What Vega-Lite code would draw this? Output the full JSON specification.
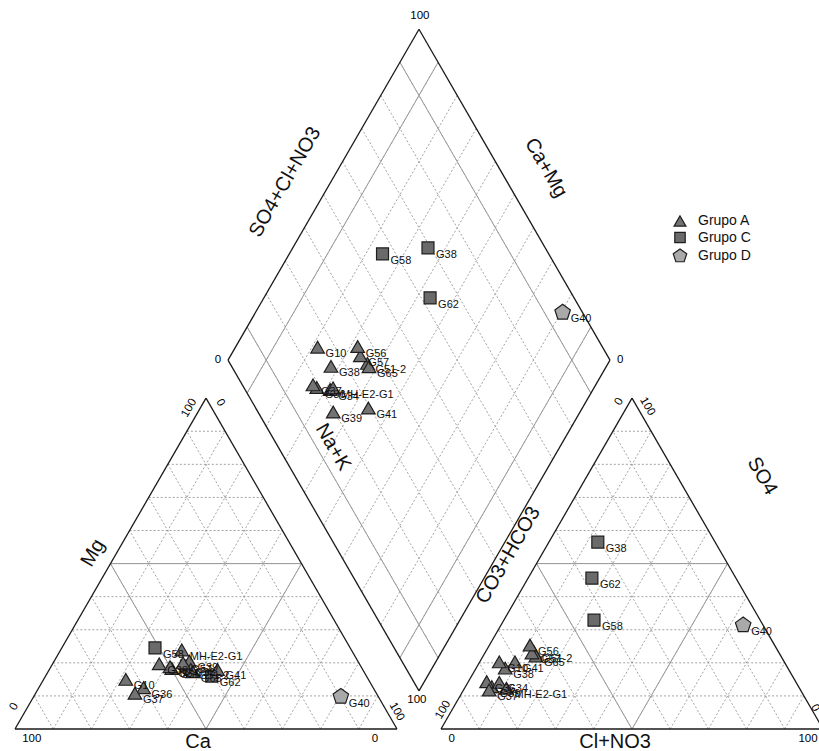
{
  "$schema": "https://vega.github.io/schema/vega-lite/v6.json",
  "width": 819,
  "height": 751,
  "autosize": {"type": "none"},
  "padding": 0,
  "background": "white",
  "config": {"view": {"stroke": null}, "font": "Liberation Sans"},
  "datasets": {
    "lines": [
      {"panel": "cat", "fam": "h", "kind": "grid", "v": [10, 20, 30, 40, 50, 60, 70, 80, 90]},
      {"panel": "cat", "fam": "p", "kind": "grid", "v": [10, 20, 30, 40, 50, 60, 70, 80, 90]},
      {"panel": "cat", "fam": "q", "kind": "grid", "v": [10, 20, 30, 40, 50, 60, 70, 80, 90]},
      {"panel": "an", "fam": "h", "kind": "grid", "v": [10, 20, 30, 40, 50, 60, 70, 80, 90]},
      {"panel": "an", "fam": "p", "kind": "grid", "v": [10, 20, 30, 40, 50, 60, 70, 80, 90]},
      {"panel": "an", "fam": "q", "kind": "grid", "v": [10, 20, 30, 40, 50, 60, 70, 80, 90]},
      {"panel": "dia", "fam": "u", "kind": "grid", "v": [10, 20, 30, 40, 50, 60, 70, 80, 90]},
      {"panel": "dia", "fam": "w", "kind": "grid", "v": [10, 20, 30, 40, 50, 60, 70, 80, 90]},
      {"panel": "cat", "fam": "h", "kind": "class", "v": [50]},
      {"panel": "cat", "fam": "p", "kind": "class", "v": [50]},
      {"panel": "cat", "fam": "q", "kind": "class", "v": [50]},
      {"panel": "an", "fam": "h", "kind": "class", "v": [50]},
      {"panel": "an", "fam": "p", "kind": "class", "v": [50]},
      {"panel": "an", "fam": "q", "kind": "class", "v": [50]},
      {"panel": "dia", "fam": "u", "kind": "class", "v": [10, 90]},
      {"panel": "dia", "fam": "w", "kind": "class", "v": [10, 90]},
      {"panel": "cat", "fam": "h", "kind": "frame", "v": [0]},
      {"panel": "cat", "fam": "p", "kind": "frame", "v": [0]},
      {"panel": "cat", "fam": "q", "kind": "frame", "v": [0]},
      {"panel": "an", "fam": "h", "kind": "frame", "v": [0]},
      {"panel": "an", "fam": "p", "kind": "frame", "v": [0]},
      {"panel": "an", "fam": "q", "kind": "frame", "v": [0]},
      {"panel": "dia", "fam": "u", "kind": "frame", "v": [0, 100]},
      {"panel": "dia", "fam": "w", "kind": "frame", "v": [0, 100]}
    ],
    "samples": [
      {"id": "G58", "grupo": "Grupo C", "Ca": 51.1, "Mg": 24.5, "NaK": 24.4, "HCO3": 43.5, "SO4": 32.9, "Cl": 23.6},
      {"id": "G38", "grupo": "Grupo C", "Ca": 45.6, "Mg": 19.0, "NaK": 35.4, "HCO3": 30.7, "SO4": 56.5, "Cl": 12.8},
      {"id": "G62", "grupo": "Grupo C", "Ca": 40.5, "Mg": 16.0, "NaK": 43.5, "HCO3": 37.7, "SO4": 45.6, "Cl": 16.7},
      {"id": "G40", "grupo": "Grupo D", "Ca": 9.8, "Mg": 9.8, "NaK": 80.4, "HCO3": 5.2, "SO4": 31.4, "Cl": 63.4},
      {"id": "G41", "grupo": "Grupo A", "Ca": 38.0, "Mg": 18.0, "NaK": 44.0, "HCO3": 70.5, "SO4": 20.3, "Cl": 9.2},
      {"id": "G39", "grupo": "Grupo A", "Ca": 44.1, "Mg": 20.5, "NaK": 35.4, "HCO3": 80.3, "SO4": 12.8, "Cl": 6.9},
      {"id": "G51-2", "grupo": "Grupo A", "Ca": 45.0, "Mg": 18.0, "NaK": 37.0, "HCO3": 64.0, "SO4": 23.4, "Cl": 12.6},
      {"id": "G65", "grupo": "Grupo A", "Ca": 44.8, "Mg": 17.3, "NaK": 37.9, "HCO3": 64.1, "SO4": 22.1, "Cl": 13.8},
      {"id": "G57", "grupo": "Grupo A", "Ca": 46.0, "Mg": 20.0, "NaK": 34.0, "HCO3": 64.7, "SO4": 23.0, "Cl": 12.3},
      {"id": "G56", "grupo": "Grupo A", "Ca": 49.8, "Mg": 18.3, "NaK": 31.9, "HCO3": 64.0, "SO4": 25.4, "Cl": 10.6},
      {"id": "G34", "grupo": "Grupo A", "Ca": 50.0, "Mg": 18.8, "NaK": 31.2, "HCO3": 77.7, "SO4": 14.1, "Cl": 8.2},
      {"id": "MH-E2-G1", "grupo": "Grupo A", "Ca": 44.4, "Mg": 23.9, "NaK": 31.7, "HCO3": 76.7, "SO4": 12.3, "Cl": 11.0},
      {"id": "G38", "grupo": "Grupo A", "Ca": 52.4, "Mg": 19.7, "NaK": 27.9, "HCO3": 74.0, "SO4": 18.4, "Cl": 7.6},
      {"id": "G36", "grupo": "Grupo A", "Ca": 60.1, "Mg": 12.5, "NaK": 27.4, "HCO3": 80.9, "SO4": 14.3, "Cl": 4.8},
      {"id": "G37", "grupo": "Grupo A", "Ca": 63.2, "Mg": 10.8, "NaK": 26.0, "HCO3": 81.5, "SO4": 11.8, "Cl": 6.7},
      {"id": "G10", "grupo": "Grupo A", "Ca": 63.5, "Mg": 15.0, "NaK": 21.5, "HCO3": 74.6, "SO4": 20.3, "Cl": 5.1}
    ],
    "titles": [
      {"t": "Ca", "x": 47.9, "y": -3.4, "dir": "flat"},
      {"t": "Cl+NO3", "x": 157.1, "y": -3.4, "dir": "flat"},
      {"t": "Mg", "x": 20.4, "y": 46.1, "dir": "up"},
      {"t": "Na+K", "x": 83.3, "y": 73.8, "dir": "down"},
      {"t": "CO3+HCO3", "x": 129.1, "y": 45.5, "dir": "up"},
      {"t": "SO4", "x": 195.6, "y": 66.2, "dir": "down"},
      {"t": "SO4+Cl+NO3", "x": 70.7, "y": 143.2, "dir": "up"},
      {"t": "Ca+Mg", "x": 139.0, "y": 146.9, "dir": "down"}
    ],
    "ticks": [
      {"t": "100", "x": 106.0, "y": 186.7, "dir": "flat"},
      {"t": "0", "x": 53.1, "y": 96.6, "dir": "flat"},
      {"t": "0", "x": 158.4, "y": 96.6, "dir": "flat"},
      {"t": "100", "x": 105.2, "y": 7.6, "dir": "flat"},
      {"t": "100", "x": 4.4, "y": -2.5, "dir": "flat"},
      {"t": "0", "x": 94.2, "y": -2.6, "dir": "flat"},
      {"t": "0", "x": -0.2, "y": 5.8, "dir": "up"},
      {"t": "100", "x": 45.6, "y": 84.0, "dir": "up"},
      {"t": "0", "x": 53.7, "y": 85.4, "dir": "down"},
      {"t": "100", "x": 99.9, "y": 4.5, "dir": "down"},
      {"t": "0", "x": 114.3, "y": -2.6, "dir": "flat"},
      {"t": "100", "x": 207.6, "y": -2.6, "dir": "flat"},
      {"t": "100", "x": 112.1, "y": 5.0, "dir": "up"},
      {"t": "0", "x": 158.2, "y": 85.7, "dir": "up"},
      {"t": "100", "x": 165.5, "y": 84.4, "dir": "down"},
      {"t": "0", "x": 209.4, "y": 5.5, "dir": "down"}
    ]
  },
  "layer": [
    {
      "data": {"name": "lines"},
      "transform": [
        {"flatten": ["v"]},
        {"calculate": "datum.panel == 'an' ? 111.52 : 0", "as": "ox"},
        {"calculate": "datum.panel == 'dia' ? (datum.fam == 'u' ? 105.76 - 0.5 * datum.v : 105.76 + 0.5 * datum.v) : datum.ox + (datum.fam == 'h' ? 0.5 * datum.v : (datum.fam == 'p' ? datum.v : 100 - datum.v))", "as": "x1"},
        {"calculate": "datum.panel == 'dia' ? 9.976 + 0.8660254 * datum.v : (datum.fam == 'h' ? 0.8660254 * datum.v : 0)", "as": "y1"},
        {"calculate": "datum.panel == 'dia' ? datum.x1 + (datum.fam == 'u' ? 50 : -50) : datum.ox + (datum.fam == 'h' ? 100 - 0.5 * datum.v : (datum.fam == 'p' ? 50 + 0.5 * datum.v : 50 - 0.5 * datum.v))", "as": "x2"},
        {"calculate": "datum.panel == 'dia' ? datum.y1 + 86.60254 : (datum.fam == 'h' ? 0.8660254 * datum.v : 0.8660254 * (100 - datum.v))", "as": "y2"}
      ],
      "layer": [
        {
          "transform": [{"filter": "datum.kind == 'grid'"}],
          "mark": {"type": "rule", "stroke": "#8c8c8c", "strokeWidth": 0.8, "strokeDash": [2, 2]},
          "encoding": {
            "x": {"field": "x1", "type": "quantitative", "scale": {"domain": [-3.9267, 210.4712], "nice": false, "zero": false}, "axis": null},
            "y": {"field": "y1", "type": "quantitative", "scale": {"domain": [-5.7592, 190.8377], "nice": false, "zero": false}, "axis": null},
            "x2": {"field": "x2"},
            "y2": {"field": "y2"}
          }
        },
        {
          "transform": [{"filter": "datum.kind == 'class'"}],
          "mark": {"type": "rule", "stroke": "#9a9a9a", "strokeWidth": 1},
          "encoding": {
            "x": {"field": "x1", "type": "quantitative", "scale": {"domain": [-3.9267, 210.4712], "nice": false, "zero": false}, "axis": null},
            "y": {"field": "y1", "type": "quantitative", "scale": {"domain": [-5.7592, 190.8377], "nice": false, "zero": false}, "axis": null},
            "x2": {"field": "x2"},
            "y2": {"field": "y2"}
          }
        },
        {
          "transform": [{"filter": "datum.kind == 'frame'"}],
          "mark": {"type": "rule", "stroke": "#1a1a1a", "strokeWidth": 1.3},
          "encoding": {
            "x": {"field": "x1", "type": "quantitative", "scale": {"domain": [-3.9267, 210.4712], "nice": false, "zero": false}, "axis": null},
            "y": {"field": "y1", "type": "quantitative", "scale": {"domain": [-5.7592, 190.8377], "nice": false, "zero": false}, "axis": null},
            "x2": {"field": "x2"},
            "y2": {"field": "y2"}
          }
        }
      ]
    },
    {
      "data": {"name": "titles"},
      "layer": [
        {
          "transform": [{"filter": "datum.dir == 'flat'"}],
          "mark": {"type": "text", "fontSize": 20, "font": "Liberation Sans", "align": "center", "baseline": "middle", "color": "#111", "angle": 0},
          "encoding": {
            "x": {"field": "x", "type": "quantitative", "scale": {"domain": [-3.9267, 210.4712], "nice": false, "zero": false}, "axis": null},
            "y": {"field": "y", "type": "quantitative", "scale": {"domain": [-5.7592, 190.8377], "nice": false, "zero": false}, "axis": null},
            "text": {"field": "t"}
          }
        },
        {
          "transform": [{"filter": "datum.dir == 'up'"}],
          "mark": {"type": "text", "fontSize": 20, "font": "Liberation Sans", "align": "center", "baseline": "middle", "color": "#111", "angle": 300},
          "encoding": {
            "x": {"field": "x", "type": "quantitative", "scale": {"domain": [-3.9267, 210.4712], "nice": false, "zero": false}, "axis": null},
            "y": {"field": "y", "type": "quantitative", "scale": {"domain": [-5.7592, 190.8377], "nice": false, "zero": false}, "axis": null},
            "text": {"field": "t"}
          }
        },
        {
          "transform": [{"filter": "datum.dir == 'down'"}],
          "mark": {"type": "text", "fontSize": 20, "font": "Liberation Sans", "align": "center", "baseline": "middle", "color": "#111", "angle": 60},
          "encoding": {
            "x": {"field": "x", "type": "quantitative", "scale": {"domain": [-3.9267, 210.4712], "nice": false, "zero": false}, "axis": null},
            "y": {"field": "y", "type": "quantitative", "scale": {"domain": [-5.7592, 190.8377], "nice": false, "zero": false}, "axis": null},
            "text": {"field": "t"}
          }
        }
      ]
    },
    {
      "data": {"name": "ticks"},
      "layer": [
        {
          "transform": [{"filter": "datum.dir == 'flat'"}],
          "mark": {"type": "text", "fontSize": 11.5, "font": "Liberation Sans", "align": "center", "baseline": "middle", "color": "#000", "angle": 0},
          "encoding": {
            "x": {"field": "x", "type": "quantitative", "scale": {"domain": [-3.9267, 210.4712], "nice": false, "zero": false}, "axis": null},
            "y": {"field": "y", "type": "quantitative", "scale": {"domain": [-5.7592, 190.8377], "nice": false, "zero": false}, "axis": null},
            "text": {"field": "t"}
          }
        },
        {
          "transform": [{"filter": "datum.dir == 'up'"}],
          "mark": {"type": "text", "fontSize": 11.5, "font": "Liberation Sans", "align": "center", "baseline": "middle", "color": "#000", "angle": 300},
          "encoding": {
            "x": {"field": "x", "type": "quantitative", "scale": {"domain": [-3.9267, 210.4712], "nice": false, "zero": false}, "axis": null},
            "y": {"field": "y", "type": "quantitative", "scale": {"domain": [-5.7592, 190.8377], "nice": false, "zero": false}, "axis": null},
            "text": {"field": "t"}
          }
        },
        {
          "transform": [{"filter": "datum.dir == 'down'"}],
          "mark": {"type": "text", "fontSize": 11.5, "font": "Liberation Sans", "align": "center", "baseline": "middle", "color": "#000", "angle": 60},
          "encoding": {
            "x": {"field": "x", "type": "quantitative", "scale": {"domain": [-3.9267, 210.4712], "nice": false, "zero": false}, "axis": null},
            "y": {"field": "y", "type": "quantitative", "scale": {"domain": [-5.7592, 190.8377], "nice": false, "zero": false}, "axis": null},
            "text": {"field": "t"}
          }
        }
      ]
    },
    {
      "data": {"name": "samples"},
      "transform": [
        {"calculate": "datum.NaK + 0.5 * datum.Mg", "as": "cx"},
        {"calculate": "0.8660254 * datum.Mg", "as": "cy"}
      ],
      "layer": [
        {
          "mark": {"type": "point", "filled": true, "size": 185, "stroke": "#1e1e1e", "strokeWidth": 1.2, "opacity": 1},
          "encoding": {
            "x": {"field": "cx", "type": "quantitative", "scale": {"domain": [-3.9267, 210.4712], "nice": false, "zero": false}, "axis": null},
            "y": {"field": "cy", "type": "quantitative", "scale": {"domain": [-5.7592, 190.8377], "nice": false, "zero": false}, "axis": null},
            "shape": {"field": "grupo", "type": "nominal", "scale": {"domain": ["Grupo A", "Grupo C", "Grupo D"], "range": ["triangle-up", "M-0.88,-0.88L0.88,-0.88L0.88,0.88L-0.88,0.88Z", "M0,-1.2L1.14,-0.37L0.7,0.97L-0.7,0.97L-1.14,-0.37Z"]},
              "legend": {"title": null, "orient": "none", "legendX": 673, "legendY": 214, "labelFontSize": 14, "labelFont": "Liberation Sans", "labelColor": "#111", "symbolSize": 140, "symbolStrokeColor": "#1e1e1e", "symbolStrokeWidth": 1.2, "symbolOpacity": 1, "labelOffset": 11, "rowPadding": 0.5, "padding": 0}},
            "color": {"field": "grupo", "type": "nominal", "scale": {"domain": ["Grupo A", "Grupo C", "Grupo D"], "range": ["#737373", "#6a6a6a", "#a9a9a9"]},
              "legend": {"title": null, "orient": "none", "legendX": 673, "legendY": 214, "labelFontSize": 14, "labelFont": "Liberation Sans", "labelColor": "#111", "symbolSize": 140, "symbolStrokeColor": "#1e1e1e", "symbolStrokeWidth": 1.2, "symbolOpacity": 1, "labelOffset": 11, "rowPadding": 0.5, "padding": 0}}
          }
        },
        {
          "mark": {"type": "text", "fontSize": 11, "font": "Liberation Sans", "align": "left", "baseline": "middle", "dx": 8, "dy": 7, "color": "#111"},
          "encoding": {
            "x": {"field": "cx", "type": "quantitative", "scale": {"domain": [-3.9267, 210.4712], "nice": false, "zero": false}, "axis": null},
            "y": {"field": "cy", "type": "quantitative", "scale": {"domain": [-5.7592, 190.8377], "nice": false, "zero": false}, "axis": null},
            "text": {"field": "id"}
          }
        }
      ]
    },
    {
      "data": {"name": "samples"},
      "transform": [
        {"calculate": "111.52 + datum.Cl + 0.5 * datum.SO4", "as": "ax"},
        {"calculate": "0.8660254 * datum.SO4", "as": "ay"}
      ],
      "layer": [
        {
          "mark": {"type": "point", "filled": true, "size": 185, "stroke": "#1e1e1e", "strokeWidth": 1.2, "opacity": 1},
          "encoding": {
            "x": {"field": "ax", "type": "quantitative", "scale": {"domain": [-3.9267, 210.4712], "nice": false, "zero": false}, "axis": null},
            "y": {"field": "ay", "type": "quantitative", "scale": {"domain": [-5.7592, 190.8377], "nice": false, "zero": false}, "axis": null},
            "shape": {"field": "grupo", "type": "nominal"},
            "color": {"field": "grupo", "type": "nominal"}
          }
        },
        {
          "mark": {"type": "text", "fontSize": 11, "font": "Liberation Sans", "align": "left", "baseline": "middle", "dx": 8, "dy": 7, "color": "#111"},
          "encoding": {
            "x": {"field": "ax", "type": "quantitative", "scale": {"domain": [-3.9267, 210.4712], "nice": false, "zero": false}, "axis": null},
            "y": {"field": "ay", "type": "quantitative", "scale": {"domain": [-5.7592, 190.8377], "nice": false, "zero": false}, "axis": null},
            "text": {"field": "id"}
          }
        }
      ]
    },
    {
      "data": {"name": "samples"},
      "transform": [
        {"calculate": "105.76 + 0.5 * ((datum.SO4 + datum.Cl) - (datum.Ca + datum.Mg))", "as": "dx"},
        {"calculate": "9.976 + 0.8660254 * ((datum.SO4 + datum.Cl) + (datum.Ca + datum.Mg))", "as": "dy"}
      ],
      "layer": [
        {
          "mark": {"type": "point", "filled": true, "size": 185, "stroke": "#1e1e1e", "strokeWidth": 1.2, "opacity": 1},
          "encoding": {
            "x": {"field": "dx", "type": "quantitative", "scale": {"domain": [-3.9267, 210.4712], "nice": false, "zero": false}, "axis": null},
            "y": {"field": "dy", "type": "quantitative", "scale": {"domain": [-5.7592, 190.8377], "nice": false, "zero": false}, "axis": null},
            "shape": {"field": "grupo", "type": "nominal"},
            "color": {"field": "grupo", "type": "nominal"}
          }
        },
        {
          "mark": {"type": "text", "fontSize": 11, "font": "Liberation Sans", "align": "left", "baseline": "middle", "dx": 8, "dy": 7, "color": "#111"},
          "encoding": {
            "x": {"field": "dx", "type": "quantitative", "scale": {"domain": [-3.9267, 210.4712], "nice": false, "zero": false}, "axis": null},
            "y": {"field": "dy", "type": "quantitative", "scale": {"domain": [-5.7592, 190.8377], "nice": false, "zero": false}, "axis": null},
            "text": {"field": "id"}
          }
        }
      ]
    }
  ]
}
